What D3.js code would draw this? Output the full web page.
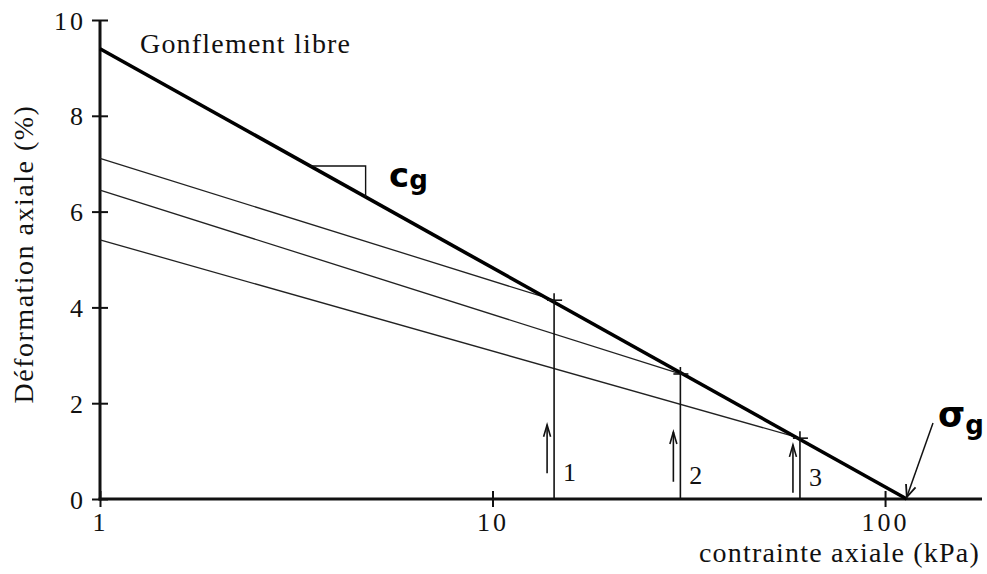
<!DOCTYPE html>
<html><head><meta charset="utf-8">
<script src="https://cdn.jsdelivr.net/npm/d3@7"></script>
<style>
html,body{margin:0;padding:0;background:#fff;}
svg{display:block;}
.serif{font-family:"Liberation Serif","Times New Roman",serif;fill:#111;}
</style></head>
<body>
<svg id="chart" width="987" height="574"></svg>
<script>
// ---- data ----
const xTicks = [1, 10, 100];
const yTicks = [0, 2, 4, 6, 8, 10];
const freeSwell = [[1, 9.4], [113.6, 0]];          // "Gonflement libre" line (stress kPa, strain %)
const loadStress = [14.35, 30.1, 60.7];            // stress at which swelling is stopped
const loadStrain = [4.15, 2.61, 1.27];             // strain on free-swell line
const startStrain = [7.11, 6.45, 5.41];            // strain at 1 kPa of each reloading line
const loadLabels = ["1", "2", "3"];
const arrowBottom = [0.54, 0.36, 0.13];
const arrowTop = [1.55, 1.40, 1.13];
const slopeTriangle = [3.43, 4.75];                // x positions of Cg triangle
const sigmaG = 113.6;

// ---- scales ----
const svg = d3.select("#chart");
const x = d3.scaleLog().domain([1, 176.6]).range([100, 982]);
const y = d3.scaleLinear().domain([0, 10]).range([499, 20]);
const freeY = s => freeSwell[0][1] + (freeSwell[1][1] - freeSwell[0][1]) * Math.log10(s) / Math.log10(freeSwell[1][0]);

// axes
const yAxis = svg.append("g").attr("transform", "translate(100,0)")
  .call(d3.axisLeft(y).tickValues(yTicks).tickSize(8).tickPadding(12).tickFormat(d3.format("d")));
yAxis.select(".domain").remove();
yAxis.selectAll(".tick line").attr("x1", -8).attr("x2", 8).attr("stroke", "#111").attr("stroke-width", 2);
yAxis.selectAll(".tick text").attr("class", "serif").attr("font-size", 26).attr("letter-spacing", 3)
  .attr("font-family", "Liberation Serif").attr("dy", "0.35em").attr("x", -14);

const xAxis = svg.append("g").attr("transform", "translate(0,499)")
  .call(d3.axisBottom(x).tickValues(xTicks).tickSize(8).tickPadding(12).tickFormat(d3.format("d")));
xAxis.select(".domain").remove();
xAxis.selectAll(".tick line").attr("y1", -8).attr("y2", 8).attr("stroke", "#111").attr("stroke-width", 2);
xAxis.selectAll(".tick text").attr("class", "serif").attr("font-size", 26).attr("letter-spacing", 3)
  .attr("font-family", "Liberation Serif").attr("y", 14).attr("dy", "0.71em");

// axis lines
svg.append("line").attr("x1", 100).attr("x2", 100).attr("y1", y(10)).attr("y2", y(0) + 1.5)
  .attr("stroke", "#111").attr("stroke-width", 3);
svg.append("line").attr("x1", 98.5).attr("x2", x(176.6)).attr("y1", y(0)).attr("y2", y(0))
  .attr("stroke", "#111").attr("stroke-width", 3);

const line = d3.line().x(d => x(d[0])).y(d => y(d[1]));

// reloading lines
loadStress.forEach((s, i) => {
  svg.append("path").attr("d", line([[1, startStrain[i]], [s, loadStrain[i]]]))
    .attr("fill", "none").attr("stroke", "#222").attr("stroke-width", 1.3);
});

// free swell thick line
svg.append("path").attr("d", line(freeSwell)).attr("fill", "none")
  .attr("stroke", "#000").attr("stroke-width", 3.6);

// verticals, crosses, arrows, labels
loadStress.forEach((s, i) => {
  const px = x(s), py = y(loadStrain[i]);
  svg.append("line").attr("x1", px).attr("x2", px).attr("y1", y(0)).attr("y2", py - 7)
    .attr("stroke", "#111").attr("stroke-width", 1.6);
  svg.append("line").attr("x1", px - 7).attr("x2", px + 8).attr("y1", py).attr("y2", py)
    .attr("stroke", "#111").attr("stroke-width", 1.6);
  const ax = px - 7, ab = y(arrowBottom[i]), at = y(arrowTop[i]);
  svg.append("line").attr("x1", ax).attr("x2", ax).attr("y1", ab).attr("y2", at)
    .attr("stroke", "#111").attr("stroke-width", 1.6);
  svg.append("path").attr("d", `M${ax - 3.5},${at + 12}L${ax},${at}L${ax + 3.5},${at + 12}`)
    .attr("fill", "none").attr("stroke", "#111").attr("stroke-width", 1.6);
  svg.append("text").attr("class", "serif").attr("x", px + 9).attr("y", y(0) - 18 + i * 2.5)
    .attr("font-size", 26).text(loadLabels[i]);
});

// Cg slope triangle
const tx0 = slopeTriangle[0], tx1 = slopeTriangle[1];
svg.append("path")
  .attr("d", `M${x(tx0)},${y(freeY(tx0))}H${x(tx1)}V${y(freeY(tx1))}`)
  .attr("fill", "none").attr("stroke", "#111").attr("stroke-width", 1.4);
const cg = svg.append("text").attr("x", 389).attr("y", 187)
  .attr("font-family", "DejaVu Sans, Liberation Sans, sans-serif").attr("font-weight", "bold")
  .attr("font-size", 34).attr("fill", "#000");
cg.append("tspan").text("c");
cg.append("tspan").attr("font-size", 26).attr("dy", 2).text("g");

// sigma_g label and arrow
const sg = svg.append("text").attr("x", 938).attr("y", 427)
  .attr("font-family", "DejaVu Sans, Liberation Sans, sans-serif").attr("font-weight", "bold")
  .attr("font-size", 35).attr("fill", "#000");
sg.append("tspan").text("σ");
sg.append("tspan").attr("font-size", 26).attr("dy", 7).text("g");
const tipX = x(sigmaG), tipY = y(0) - 2;
const fromX = 933, fromY = 423;
svg.append("line").attr("x1", fromX).attr("y1", fromY).attr("x2", tipX).attr("y2", tipY)
  .attr("stroke", "#111").attr("stroke-width", 1.5);
{
  const ang = Math.atan2(tipY - fromY, tipX - fromX);
  const L = 13, w = 0.4;
  const p1 = [tipX - L * Math.cos(ang - w), tipY - L * Math.sin(ang - w)];
  const p2 = [tipX - L * Math.cos(ang + w), tipY - L * Math.sin(ang + w)];
  svg.append("path").attr("d", `M${p1}L${tipX},${tipY}L${p2}`)
    .attr("fill", "none").attr("stroke", "#111").attr("stroke-width", 1.8);
}

// texts
svg.append("text").attr("class", "serif").attr("x", 140).attr("y", 53)
  .attr("font-size", 28).attr("letter-spacing", 1.2).text("Gonflement libre");
svg.append("text").attr("class", "serif").attr("x", 980).attr("y", 562)
  .attr("text-anchor", "end").attr("font-size", 28).attr("letter-spacing", 1.2)
  .text("contrainte axiale (kPa)");
svg.append("text").attr("class", "serif").attr("transform", "translate(33,254) rotate(-90)")
  .attr("text-anchor", "middle").attr("font-size", 28).attr("letter-spacing", 1.5)
  .text("Déformation axiale (%)");
</script>
</body></html>
